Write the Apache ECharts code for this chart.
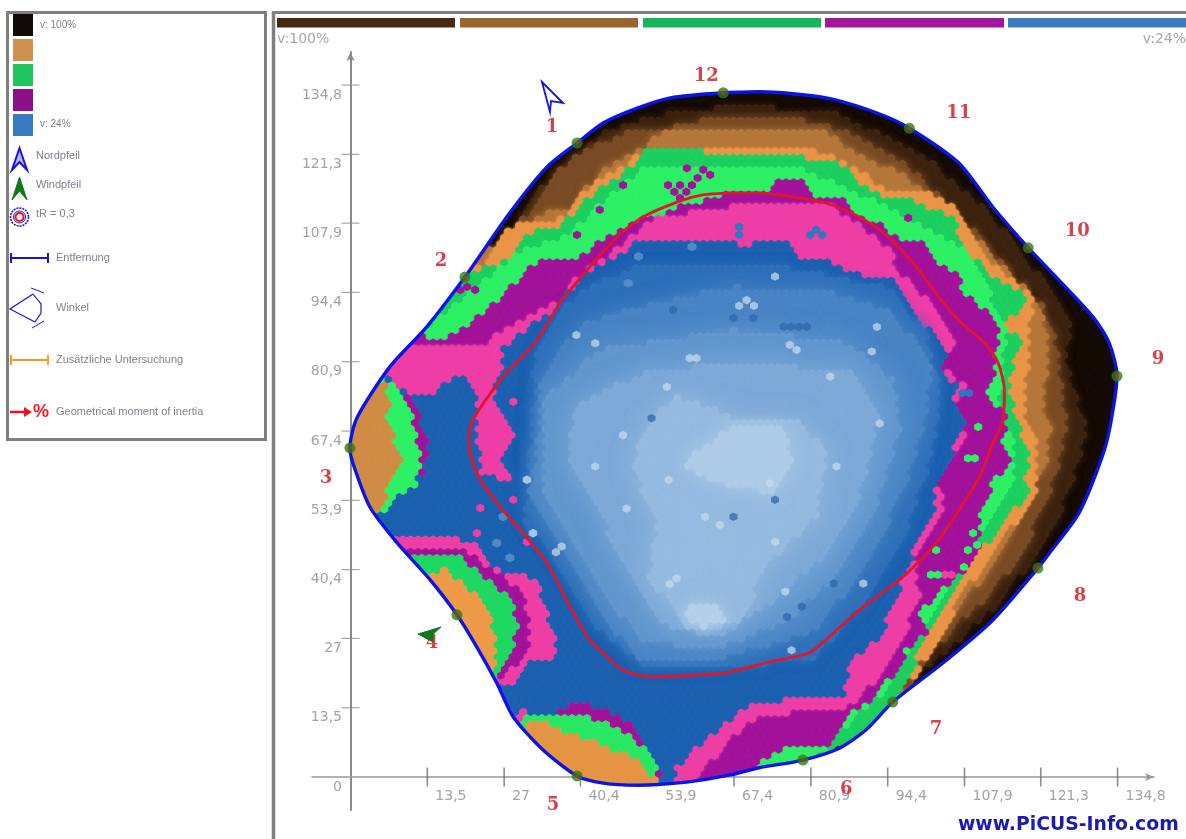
<!DOCTYPE html>
<html>
<head>
<meta charset="utf-8">
<style>
html,body{margin:0;padding:0;background:#fff;overflow:hidden}
#chart{width:1186px;height:839px;filter:blur(0.6px)}
</style>
<script src="https://cdn.jsdelivr.net/npm/echarts@6/dist/echarts.min.js"></script>
</head>
<body>
<div id="chart"></div>
<script>
// ---------- tick values ----------
const TICK_VALUES = [0,13.5,27,40.4,53.9,67.4,80.9,94.4,107.9,121.3,134.8];
const BAR_COLORS = ['#472a12','#99652f','#17b45a','#a3169c','#3a7abf'];
// ---------- sensors ----------
const SENSOR_NAMES = ['1','2','3','4','5','6','7','8','9','10','11','12'];
const SENSORS = [[39.8,123.5],[20.1,97.4],[-0.1,64.1],[18.7,31.6],[39.8,0.2],[79.5,3.3],[95.3,14.6],[120.8,40.7],[134.7,78.1],[119.1,103.1],[98.2,126.4],[65.5,133.3]];
const SENSOR_LABELS = [[35.4,126.5],[15.9,100.4],[-4.3,58.1],[14.3,26.0],[35.6,-5.6],[87.1,-2.4],[102.9,9.2],[128.2,35.2],[141.9,81.3],[127.7,106.3],[106.9,129.3],[62.5,136.5]];
// ---------- tree outline ----------
const OUTLINE = [[65.5,133.3],[71.8,133.5],[83.6,132.3],[92.4,129.4],[98.2,126.4],[106.9,119.6],[112.9,111.0],[119.1,103.1],[124.5,96.8],[130.5,89.6],[133.3,84.6],[134.7,78.1],[133.7,69.6],[132.3,63.1],[128.0,51.4],[122.8,43.6],[120.8,40.7],[112.9,30.6],[104.1,22.2],[95.3,14.6],[90.6,9.2],[85.9,5.6],[79.5,3.3],[71.8,1.8],[66.7,0.4],[59.1,-1.0],[50.4,-1.6],[44.4,-1.2],[39.8,0.2],[33.8,5.3],[28.6,11.7],[25.7,18.3],[22.2,25.3],[18.7,31.6],[14.0,38.4],[8.2,45.6],[3.4,52.6],[0.4,61.2],[-0.1,64.1],[1.1,69.9],[6.9,79.9],[13.4,87.7],[20.1,97.4],[28.0,109.9],[34.5,118.8],[39.8,123.5],[44.4,127.4],[50.4,130.3],[56.2,132.3]];
// ---------- geometrical moment of inertia ----------
const INERTIA = [[66.7,113.8],[71.8,113.8],[77.8,113.0],[83.6,111.8],[89.4,109.1],[94.1,105.6],[98.9,100.1],[103.4,93.5],[106.9,89.0],[111.7,84.2],[113.8,80.7],[114.9,75.4],[114.7,69.6],[112.9,65.1],[110.5,58.4],[106.9,52.0],[102.9,45.6],[97.1,39.0],[89.4,32.5],[84.1,27.3],[80.6,24.2],[73.6,22.4],[66.0,20.3],[60.9,19.9],[53.2,19.5],[47.9,20.8],[44.4,24.2],[41.6,27.3],[38.6,33.1],[34.5,41.7],[30.3,47.5],[26.3,52.6],[22.8,57.9],[21.0,63.1],[20.8,66.2],[21.5,69.6],[26.8,77.9],[32.8,85.1],[36.8,92.3],[41.6,98.8],[46.8,105.2],[51.4,109.1],[57.4,112.0],[61.9,113.4],[66.7,113.8]];
// ---------- velocity zone contours, outermost first ----------
const RIM_DARK = [[21.0,98.8],[24.0,101.7],[28.0,106.6],[32.8,113.8],[39.8,120.8],[44.4,125.5],[53.2,128.6],[66.0,130.5],[83.6,129.9],[92.4,125.5],[101.1,120.8],[106.9,114.9],[112.9,109.1],[118.7,100.7],[124.5,93.5],[126.3,89.0],[125.7,79.9],[128.7,69.6],[129.3,68.2],[128.0,61.2],[124.5,51.4],[118.7,40.9],[112.9,32.5],[108.1,28.1],[104.1,24.2],[99.9,20.8],[97.4,16.9],[93,9],[61.4,-6.4],[-8.9,-6.4],[-8.9,92.9]];
const RIM_BROWN = [[24.5,102.3],[32.8,111.8],[36.3,117.7],[41.6,122.7],[50.4,126.0],[56.2,126.6],[66.7,129.0],[83.6,127.4],[90.6,123.5],[98.2,118.8],[104.1,112.4],[109.9,106.0],[115.7,98.2],[121.7,91.6],[123.5,86.5],[124.5,79.9],[125.7,69.6],[124.5,61.2],[121.7,52.0],[117.0,42.3],[111.7,34.5],[105.9,29.2],[102.4,24.2],[99.7,20.8],[97.4,16.9],[93,9],[61.4,-6.4],[-8.9,-6.4],[-8.9,92.9]];
const RIM_TAN = [[24.5,102.7],[28.6,106.6],[34.5,109.9],[38.6,109.9],[39.8,112.4],[44.4,118.8],[49.7,121.6],[54.9,125.5],[66.0,126.6],[83.6,125.5],[89.4,120.8],[96.4,117.7],[102.4,113.0],[108.2,107.2],[114.0,100.1],[120.5,92.9],[122.2,86.5],[122.2,79.9],[121.7,69.6],[122.8,68.2],[122.2,61.2],[118.7,52.0],[112.9,40.9],[105.9,32.0],[101.1,24.2],[99.4,21.4],[97.4,16.9],[93,9],[61.4,-6.4],[-8.9,-6.4],[-8.9,92.9]];
const RIM_ORANGE = [[22.2,99.4],[24.5,101.3],[26.8,106.0],[30.3,108.5],[36.3,108.5],[39.1,111.0],[41.6,114.4],[46.8,118.3],[50.4,120.8],[51.4,122.5],[66.7,122.7],[80.0,122.5],[84.8,120.8],[89.4,117.7],[95.3,113.8],[101.1,113.8],[105.9,111.0],[108.7,106.0],[112.9,100.1],[117.5,95.5],[120.1,92.9],[119.2,89.0],[119.2,83.2],[118.7,76.8],[118.7,69.6],[120.0,68.2],[120.5,61.8],[120.5,54.5],[117.5,50.1],[115.2,48.7],[111.7,41.7],[106.9,35.1],[104.1,27.3],[100.6,22.8],[98.9,19.5],[97.1,16.9],[93,9],[61.4,-6.4],[-8.9,-6.4],[-8.9,92.9]];
const GREEN_MID = [[22.2,98.8],[26.8,100.1],[31.0,106.0],[36.3,107.2],[39.8,109.9],[42.1,113.0],[46.1,116.3],[49.7,119.6],[51.4,122.2],[66.7,121.6],[80.0,120.8],[81.3,119.6],[85.9,119.6],[87.6,117.7],[90.6,114.9],[93.6,113.0],[98.9,112.8],[101.1,111.0],[106.4,109.1],[106.9,106.0],[109.9,100.7],[112.9,97.4],[116.4,95.5],[118.7,92.9],[117.5,90.4],[114.0,89.0],[115.2,86.5],[118.2,85.7],[117.5,82.6],[115.7,78.7],[115.7,74.8],[117.0,69.6],[119.2,63.1],[118.7,57.9],[119.2,54.0],[117.0,52.6],[112.9,47.5],[108.2,39.0],[105.9,35.8],[101.1,28.6],[99.4,22.8],[97.6,18.3],[95.3,15.6],[93,9],[61.4,-6.4],[-8.9,-6.4],[-8.9,92.9]];
const GREEN_BRIGHT = [[-8.9,88],[14.0,88.1],[24.5,97.8],[29.8,102.7],[36.8,104.6],[43.8,111.4],[50.9,118.3],[61.4,119.2],[79.0,118.3],[87.8,114.4],[96.6,109.5],[107.1,103.6],[111.5,95.9],[114.1,90.0],[115.0,87.1],[114.1,73.4],[116.8,63.7],[115.9,55.9],[110.6,48.1],[105.3,38.4],[101.0,30.6],[97.4,22.8],[93.1,16.0],[87.8,11.1],[83.4,5.3],[70,-3],[-8.9,-6.4]];
const PURPLE = [[-8.9,86.5],[12.2,86.5],[13.4,85.7],[16.3,84.6],[21.0,88.4],[26.3,93.5],[32.8,100.7],[39.8,101.3],[44.4,104.6],[51.4,109.1],[54.9,109.1],[57.4,111.0],[60.9,111.8],[66.0,113.8],[73.0,114.0],[74.8,115.9],[80.0,115.9],[81.8,113.0],[87.1,112.4],[89.4,109.1],[93.6,107.2],[96.4,104.6],[100.6,104.0],[101.7,101.3],[104.7,98.8],[106.9,97.4],[107.6,94.3],[112.2,90.4],[113.8,89.0],[113.5,83.8],[112.9,78.7],[111.2,74.8],[114.7,70.9],[115.2,68.2],[114.0,66.2],[115.7,61.8],[112.9,57.3],[110.5,51.4],[110.5,44.8],[106.9,39.0],[103.4,36.4],[99.4,31.2],[101.1,28.1],[97.6,24.7],[95.9,20.8],[90.6,14.4],[87.1,12.5],[84.8,6.6],[83.0,5.6],[76.5,5.8],[71.8,2.7],[70.2,-0.6],[61.4,-6.4],[-8.9,-6.4]];
const PINK = [[-8.9,84],[15.7,83.8],[23.3,83.8],[28.0,87.7],[36.8,92.9],[39.8,97.4],[44.4,100.7],[50.9,106.6],[53.2,108.5],[66.0,111.0],[75.5,111.4],[83.6,111.8],[89.4,107.2],[94.1,103.3],[97.1,97.4],[102.9,91.6],[105.9,85.1],[104.1,79.9],[108.2,76.0],[105.9,73.4],[108.2,69.6],[106.9,68.2],[108.2,65.7],[105.2,63.1],[103.4,57.9],[104.1,52.0],[101.1,46.8],[98.9,42.3],[99.9,34.5],[97.6,29.2],[94.6,22.2],[89.4,15.6],[86.5,13.6],[79.5,13.1],[69.5,11.1],[66.0,6.2],[60.5,-0.2],[57.9,-6.4],[-8.9,-6.4]];
const BLUE_BASE = [[-8.9,78.5],[7.5,77.9],[9.9,74.0],[15.2,74.0],[16.3,76.8],[19.8,78.7],[22.2,75.4],[22.2,65.7],[22.8,58.8],[28.0,57.9],[26.3,61.8],[28.9,65.7],[28.0,69.6],[25.4,73.4],[25.7,76.4],[26.8,79.9],[26.3,83.2],[30.3,86.5],[36.3,91.6],[40.3,97.4],[46.8,101.3],[50.9,104.6],[66.0,104.6],[69.5,103.3],[72.5,104.6],[77.1,104.0],[78.3,101.3],[83.6,100.7],[88.3,98.2],[95.3,96.8],[98.9,90.4],[103.4,85.1],[105.2,82.6],[103.4,79.9],[106.9,75.4],[105.9,73.4],[108.2,69.6],[106.9,67.0],[105.9,63.1],[102.4,56.5],[102.9,51.4],[99.4,45.6],[97.6,40.3],[94.6,31.2],[92.9,27.3],[88.8,23.4],[86.5,18.3],[86.5,16.0],[79.5,15.6],[69.5,13.6],[66.0,10.5],[61.9,7.2],[57.4,1.9],[57.0,0.4],[56.2,-6.4],[-8.9,-6.4]];
const BLUE_1 = [[50.9,99.4],[73.1,100.1],[95.4,94.9],[101.3,85.8],[103.6,74.1],[101.6,61.1],[96.6,44.9],[90.7,35.1],[81.9,23.4],[67.3,21.5],[50.9,22.1],[42.7,29.9],[36.8,41.6],[30.8,49.4],[31.5,61.1],[32.5,74.1],[32,80],[36.8,91.6],[43.8,96.2]];
const BLUE_2 = [[50.9,91.6],[67.3,95.5],[84.9,94.2],[95.4,90.3],[101.8,80.6],[101.3,70.2],[96.6,54.6],[90.7,41.6],[81.9,28.6],[64.3,22.8],[49.7,23.4],[42.7,35.1],[36.8,44.2],[31.5,54.6],[33.0,66.3],[33.7,78.6],[40.9,88.4]];
const BLUE_3 = [[43.8,83.2],[67.3,87.1],[87.8,84.5],[95.4,77.3],[96.6,67.6],[91.9,51.4],[86.0,39.7],[76.1,30.0],[63.8,24.8],[50.9,26.7],[43.8,37.1],[38.0,46.8],[33.9,54.6],[34.3,74.1]];
const BLUE_4 = [[52.6,79.3],[73.1,80.6],[87.8,78.6],[92.5,70.2],[89.5,54.6],[81.9,41.6],[73.1,33.2],[64.3,27.3],[53.8,29.9],[47.9,41.6],[43.8,51.4],[38.0,61.1],[39.7,72.8]];
const BLUE_5 = [[56.7,74.1],[67.3,70.2],[77.8,70.2],[83.7,63.7],[81.9,50.7],[73.1,41.6],[68.4,29.9],[59.1,28.6],[52.6,39.0],[53.8,49.4],[49.7,59.8],[51.5,67.6]];
const BLUE_6 = [[68.4,68.9],[75.5,68.2],[77.8,62.4],[74.3,55.3],[64.9,57.2],[57.9,61.1]];
const BLUE_6B = [[59.1,33.2],[64.9,33.2],[66.1,29.9],[61.4,29.3],[58.2,31.2]];
// ---------- lobes near sensors 3, 4, 5 ----------
const W_PURPLE = [[-1.8,77.3],[6.1,77.7],[9.6,74.4],[12.2,69.6],[13.6,64.7],[12.9,59.8],[10.8,56.9],[7.8,54.0],[5.2,51.0],[-1.8,52.0]];
const W_GREEN = [[-1.8,77.3],[6.1,77.7],[9.2,74.0],[11.0,69.6],[12.2,63.1],[11.7,57.3],[6.9,53.4],[5.2,51.0],[-1.8,52.0]];
const W_ORANGE = [[-1.8,76],[5.7,77.3],[6.9,73.4],[6.4,69.6],[7.5,65.7],[9.2,62.3],[7.5,59.8],[6.4,56.5],[5.7,51.6],[-1.8,51]];
const SW_PINK = [[5,46.5],[12.2,46.2],[19.2,46.2],[22.8,44.8],[24.0,40.9],[28.0,39.7],[32.8,38.4],[33.3,35.1],[34.5,31.2],[35.6,28.1],[36.3,22.8],[31.5,22.8],[29.8,20.8],[29.3,17.5],[26.3,17.5],[20,15],[5,40]];
const SW_PURPLE = [[5,44.8],[9.9,44.8],[19.2,44.8],[22.2,42.3],[25.0,40.3],[29.3,37.0],[31.0,32.5],[31.5,26.7],[29.8,22.8],[26.3,19.5],[20,18],[5,40]];
const SW_GREEN = [[6,43.2],[11.0,43.2],[18.7,43.2],[23.3,39.0],[28.0,34.5],[29.3,29.2],[28.0,22.8],[25.7,19.3],[20,19],[6,41]];
const SW_ORANGE = [[10,40],[14.0,39.9],[17.0,40.3],[20.5,37.0],[24.0,33.9],[25.0,29.2],[25.7,20.8],[20,20],[10,38]];
const S_PINK = [[27,13],[28.0,12.5],[31.0,12.7],[32.4,11.1],[29.8,10.1],[27,11]];
const S_PURPLE = [[37.7,14.4],[41.6,14.0],[47.4,12.1],[51.2,8.2],[52.6,4.9],[54.4,0.4],[52.6,-3.5],[31.5,-3.5],[30.7,12.1],[37.7,12.7]];
const S_GREEN = [[32.1,12.5],[38.6,12.5],[44.4,10.5],[49.1,7.8],[52.1,5.3],[54.0,0.8],[52.6,-3.5],[31.5,-3.5],[29.8,11.1]];
const S_ORANGE = [[31.0,10.7],[34.5,10.5],[39.8,7.8],[44.4,6.2],[47.4,4.7],[51.4,2.7],[53.5,-0.6],[52.6,-3.5],[31.5,-3.5],[28.9,8.2]];
// ---------- isolated readings ----------
const PURPLE_CELLS = [[59.1,118.6],[62.0,118.3],[63.2,117.3],[61,116.7],[55.8,115.3],[57.9,115.3],[60,115.3],[56.9,114],[59,114],[57.9,112.8],[43.8,110.5],[39.8,105.6],[47.9,115.3],[98,108.9],[20.5,95.5],[19.3,94.9],[21.9,94.9]];
const PINK_CELLS = [[22.8,52.4],[22.2,47.5],[28.6,54.0],[31,45.8],[28.6,73.1],[27.5,58.6],[26.3,58.6],[105.6,39.4],[104.5,39.4]];
const GREEN_CELLS = [[108.5,62.1],[109.7,62.1],[102,39.4],[103.2,39.4],[107.8,40.9],[110.3,68.2],[102.9,44.2],[109.4,47.5],[110.1,45.2],[108.5,44.2]];
const BLUE_CELLS = [[81.8,106.6],[80.8,105.6],[82.9,105.6],[68.3,107.2],[68.3,105.6],[108.7,74.8],[107.5,74.8]];
const LIGHT_CELLS = [[69.6,92.9],[68.3,91.8],[70.9,91.8],[74.6,97.5],[78.4,83.2],[77.2,84.2],[91.6,82.9],[92.5,87.7],[60.8,81.6],[59.6,81.6],[55.6,76.0],[47.9,66.6],[43.0,60.5],[55.9,57.9],[73.7,57.2],[48.5,52.3],[62.3,50.7],[64.9,49.1],[32.1,47.5],[37.1,44.9],[36.1,43.8],[74.6,45.8],[57.3,38.7],[56.1,37.6],[76.4,36.1],[77.5,24.7],[93.0,68.9],[85.4,60.5],[90.1,37.7],[84.3,78],[39.7,86.1],[31.0,57.9],[43,84.5]];
const MID_BLUE_CELLS = [[48.8,96.2],[50.6,101.4],[60,103.3],[31,57.9],[26.8,50.7],[25.7,45.6],[28,42.7],[32,47.5]];
const DARK_CELLS = [[67.3,89.4],[70.8,89.4],[76.1,87.7],[77.4,87.7],[78.8,87.7],[80.2,87.7],[56.7,91],[52.9,69.9],[67.3,50.7],[74.6,54.0],[76.7,31.2],[79.3,33.2],[84.9,37.7]];

// ---------- painter's list: contour, colour, edge softness ----------
const LAYERS = [
  [OUTLINE,'#150b05',0],[RIM_DARK,'#3d2410',7],[RIM_BROWN,'#7a4c25',8],[RIM_TAN,'#b5773a',7],[RIM_ORANGE,'#ea9547',3],
  [GREEN_MID,'#1ccf5e',0],[GREEN_BRIGHT,'#2ef064',0],[PURPLE,'#a3129a',0],[PINK,'#ee3fa6',3],
  [BLUE_BASE,'#1c60b0',0],[BLUE_1,'#2f70ba',12],[BLUE_2,'#4a85c5',20],[BLUE_3,'#6398cf',24],[BLUE_4,'#7eaad8',24],[BLUE_5,'#96bbe0',24],[BLUE_6,'#aecce8',20],[BLUE_6B,'#b4d0ea',14],
  [W_PURPLE,'#a3129a',0],[W_GREEN,'#2ef064',0],[W_ORANGE,'#d08c44',0],
  [SW_PINK,'#ee3fa6',0],[SW_PURPLE,'#a3129a',0],[SW_GREEN,'#1fd862',0],[SW_ORANGE,'#ee9a48',0],
  [S_PINK,'#ee3fa6',0],[S_PURPLE,'#a3129a',0],[S_GREEN,'#2ae862',0],[S_ORANGE,'#e59444',0]
];

// hexagonal tile used as the fill style of the zones
const TILE_W = 1.32, TILE_H = 1.2;
function inside(p, poly){
  let c = false;
  for(let i=0,j=poly.length-1;i<poly.length;j=i++){
    const a=poly[i],b=poly[j];
    if((a[1]>p[1])!==(b[1]>p[1]) && p[0]<(b[0]-a[0])*(p[1]-a[1])/(b[1]-a[1])+a[0]) c=!c;
  }
  return c;
}
const tiles = LAYERS.map(()=>[]);
(function(){
  for(let r=0;r<118;r++){
    const y=-3+r*TILE_H;
    for(let q=0;q<106;q++){
      const x=-2+q*TILE_W+(r%2?TILE_W/2:0);
      let hit=false;
      const near=[[x,y],[x+TILE_W/2,y],[x-TILE_W/2,y],[x,y+TILE_H*.67],[x,y-TILE_H*.67]];
      for(const n of near){ if(inside(n,OUTLINE)){hit=true;break;} }
      if(!hit) continue;
      let k=0;
      for(let l=LAYERS.length-1;l>0;l--){ if(inside([x,y],LAYERS[l][0])){k=l;break;} }
      tiles[k].push([x,y]);
    }
  }
})();
function renderZone(params, api){
  const k=params.dataIndex, list=tiles[k];
  if(!list.length) return null;
  const s=api.size([TILE_W,TILE_H]), hw=s[0]/2, rr=s[1]/1.5;
  let d='',x0=1e9,y0=1e9,x1=-1e9,y1=-1e9;
  for(const t of list){
    const c=api.coord(t), X=c[0], Y=c[1];
    d+='M'+X.toFixed(2)+' '+(Y-rr).toFixed(2)+'L'+(X+hw).toFixed(2)+' '+(Y-rr/2).toFixed(2)+'L'+(X+hw).toFixed(2)+' '+(Y+rr/2).toFixed(2)+'L'+X.toFixed(2)+' '+(Y+rr).toFixed(2)+'L'+(X-hw).toFixed(2)+' '+(Y+rr/2).toFixed(2)+'L'+(X-hw).toFixed(2)+' '+(Y-rr/2).toFixed(2)+'Z';
    x0=Math.min(x0,X-hw);x1=Math.max(x1,X+hw);y0=Math.min(y0,Y-rr);y1=Math.max(y1,Y+rr);
  }
  const soft=LAYERS[k][2];
  return {
    type:'path', silent:true,
    shape:{pathData:d,layout:'cover',x:x0,y:y0,width:x1-x0,height:y1-y0},
    style:{fill:LAYERS[k][1],stroke:LAYERS[k][1],lineWidth:0.6,shadowBlur:soft,shadowColor:soft?LAYERS[k][1]:'transparent'},
    clipPath:{type:'polygon',shape:{points:OUTLINE.map(p=>api.coord(p))}}
  };
}
const HEX='path://M0 -10L8.66 -5L8.66 5L0 10L-8.66 5L-8.66 -5Z';
function cells(name,data,color,size,opacity){
  return {type:'scatter',name,data,symbol:HEX,symbolSize:size||[8,8.6],itemStyle:{color,opacity:opacity||1},z:3,silent:true,clip:false};
}
const fmt=v=>String(v).replace('.',',');
const LABEL={color:'#a3a3a3',fontFamily:'DejaVu Sans',fontSize:14};

const chart=echarts.init(document.getElementById('chart'),null,{renderer:'canvas'});
const BLUE='#1414e0', TXT='#80808c';
function legText(t,x,y,fs){return {type:'text',z:20,silent:true,style:{text:t,x,y,fill:TXT,font:(fs||11)+'px "Liberation Sans"',verticalAlign:'middle'}};}
function rect(x,y,w,h,fill){return {type:'rect',z:20,silent:true,shape:{x,y,width:w,height:h},style:{fill}};}
function ln(x1,y1,x2,y2,c,w){return {type:'line',z:20,silent:true,shape:{x1,y1,x2,y2},style:{stroke:c,lineWidth:w}};}
function poly(pts,fill,stroke,w,closed){return {type:closed===false?'polyline':'polygon',z:20,silent:true,shape:{points:pts},style:{fill:fill||'none',stroke:stroke||'none',lineWidth:w||1}};}

const graphics=[
  {type:'rect',z:20,silent:true,shape:{x:7.5,y:12.5,width:258,height:427},style:{fill:'none',stroke:'#7f7f7f',lineWidth:3}},
  ln(273.5,11,273.5,839,'#808080',3.5),ln(272,12.5,1186,12.5,'#808080',3),
  rect(13,14,20,22,'#120a05'),rect(13,39,20,22,'#d09050'),rect(13,64,20,22,'#1fc45f'),rect(13,89,20,22,'#8b0f8b'),rect(13,114,20,22,'#3a7bbf'),
  legText('v: 100%',40,25,10),legText('v: 24%',40,124,10),
  poly([[19.5,148],[27,170],[19.5,162],[12,170]],'#b8b8ff',BLUE,2),legText('Nordpfeil',36,156),
  poly([[19.5,177],[27,200],[19.5,191],[12,200]],'#0c7a18','#0c7a18',1),legText('Windpfeil',36,185),
  {type:'circle',z:20,silent:true,shape:{cx:19.5,cy:217,r:9},style:{fill:'none',stroke:BLUE,lineWidth:1.6,lineDash:[2,1]}},
  {type:'circle',z:20,silent:true,shape:{cx:19.5,cy:217,r:6},style:{fill:'none',stroke:BLUE,lineWidth:1}},
  {type:'circle',z:20,silent:true,shape:{cx:19.5,cy:217,r:4},style:{fill:'#fff',stroke:'#f01020',lineWidth:2}},
  legText('tR = 0,3',36,214),
  ln(10,258,49,258,BLUE,2),ln(11,253,11,263,BLUE,2),ln(48,253,48,263,BLUE,2),legText('Entfernung',56,258),
  poly([[33,294],[10,309],[35,322]],null,BLUE,1.2,false),poly([[33,294],[41,304],[41,313],[35,322]],null,BLUE,1.2,false),
  ln(31,288,44,293,BLUE,1),ln(32,328,44,321,BLUE,1),legText('Winkel',56,308),
  ln(10,360,49,360,'#fa9a22',2),ln(11,355,11,365,'#fa9a22',2),ln(48,355,48,365,'#fa9a22',2),legText('Zusätzliche Untersuchung',56,360),
  ln(10,412,26,412,'#f01020',2.5),poly([[24,407],[32,412],[24,417]],'#f01020'),
  {type:'text',z:20,silent:true,style:{text:'%',x:33,y:412,fill:'#f01828',font:'bold 18px "Liberation Sans"',verticalAlign:'middle'}},
  legText('Geometrical moment of inertia',56,412),
  rect(277,18,178,9.5,BAR_COLORS[0]),rect(460,18,178,9.5,BAR_COLORS[1]),rect(643,18,178,9.5,BAR_COLORS[2]),rect(825,18,179,9.5,BAR_COLORS[3]),rect(1008,18,178,9.5,BAR_COLORS[4]),
  {type:'text',z:20,silent:true,style:{text:'v:100%',x:277,y:39,fill:'#a8a8a8',font:'14px "DejaVu Sans"',verticalAlign:'middle'}},
  {type:'text',z:20,silent:true,style:{text:'v:24%',x:1186,y:39,align:'right',fill:'#a8a8a8',font:'14px "DejaVu Sans"',verticalAlign:'middle'}},
  poly([[542,82],[563,103],[551,101],[550,112]],'#fff',BLUE,1.8),
  poly([[418,634],[441,627],[433,634],[433,642]],'#12781e','#12781e',1),
  {type:'text',z:20,silent:true,style:{text:'www.PiCUS-Info.com',x:958,y:825,fill:'#1a1ab4',font:'bold 18.8px "DejaVu Sans"',verticalAlign:'middle'}}
];

chart.setOption({
  animation:false,
  backgroundColor:'#fff',
  grid:{left:312,right:32,top:52,bottom:29,containLabel:false},
  xAxis:{type:'value',min:-6.77,max:141.2,splitLine:{show:false},
    axisLine:{onZero:true,symbol:['none','arrow'],symbolSize:[6,9],lineStyle:{color:'#999',width:1.6}},
    axisTick:{show:false},
    axisLabel:{customValues:TICK_VALUES.slice(1),formatter:fmt,align:'left',margin:-21,padding:[0,0,0,8],...LABEL}},
  yAxis:{type:'value',min:-6.43,max:141.24,splitLine:{show:false},
    axisLine:{onZero:true,symbol:['none','arrow'],symbolSize:[6,9],lineStyle:{color:'#8a8a8a',width:2}},
    axisTick:{show:false},
    axisLabel:{customValues:TICK_VALUES,formatter:fmt,align:'right',verticalAlign:'top',margin:-30,padding:[3,0,0,0],...LABEL}},
  graphic:graphics,
  series:[
    {type:'scatter',name:'x ticks',data:TICK_VALUES.slice(1).map(v=>[v,0]),symbol:'rect',symbolSize:[1.6,19],itemStyle:{color:'#707070'},z:1,silent:true,clip:false},
    {type:'scatter',name:'y ticks',data:TICK_VALUES.slice(1).map(v=>[0,v]),symbol:'rect',symbolSize:[18,1.2],itemStyle:{color:'#909090'},z:1,silent:true,clip:false},
    {type:'custom',name:'velocity zones',coordinateSystem:'cartesian2d',renderItem:renderZone,data:LAYERS.map(()=>[0,0]),z:2,silent:true,clip:false},
    cells('purple cells',PURPLE_CELLS,'#a3129a'),
    cells('pink cells',PINK_CELLS,'#ee3fa6'),
    cells('green cells',GREEN_CELLS,'#2ef064'),
    cells('blue cells',BLUE_CELLS,'#2f78c0'),
    cells('mid blue cells',MID_BLUE_CELLS,'#5f94cc',[9,9],0.8),
    cells('dark cells',DARK_CELLS,'#2f66ae',[8,8.6],0.75),
    cells('light cells',LIGHT_CELLS,'#c4daee',[8,8.6],0.75),
    {type:'line',name:'inertia',data:INERTIA,smooth:0.25,showSymbol:false,lineStyle:{color:'#e3152b',width:2.8},z:4,silent:true,clip:false},
    {type:'line',name:'outline',data:OUTLINE.concat([OUTLINE[0]]),smooth:0.25,showSymbol:false,lineStyle:{color:'#0a14e6',width:3.4},z:5,silent:true,clip:false},
    {type:'scatter',name:'sensors',data:SENSORS,symbol:'circle',symbolSize:11,itemStyle:{color:'#2f7a14'},z:6,silent:true,clip:false},
    {type:'scatter',name:'sensor core',data:SENSORS,symbol:'circle',symbolSize:3.5,itemStyle:{color:'#e0202a'},z:6,silent:true,clip:false},
    {type:'scatter',name:'sensor numbers',data:SENSOR_LABELS,symbolSize:1,itemStyle:{color:'rgba(0,0,0,0)'},z:7,silent:true,clip:false,
      label:{show:true,position:'inside',formatter:p=>SENSOR_NAMES[p.dataIndex],color:'#cc1422',fontFamily:'DejaVu Serif',fontWeight:'bold',fontSize:18}}
  ]
});
</script>
</body>
</html>
